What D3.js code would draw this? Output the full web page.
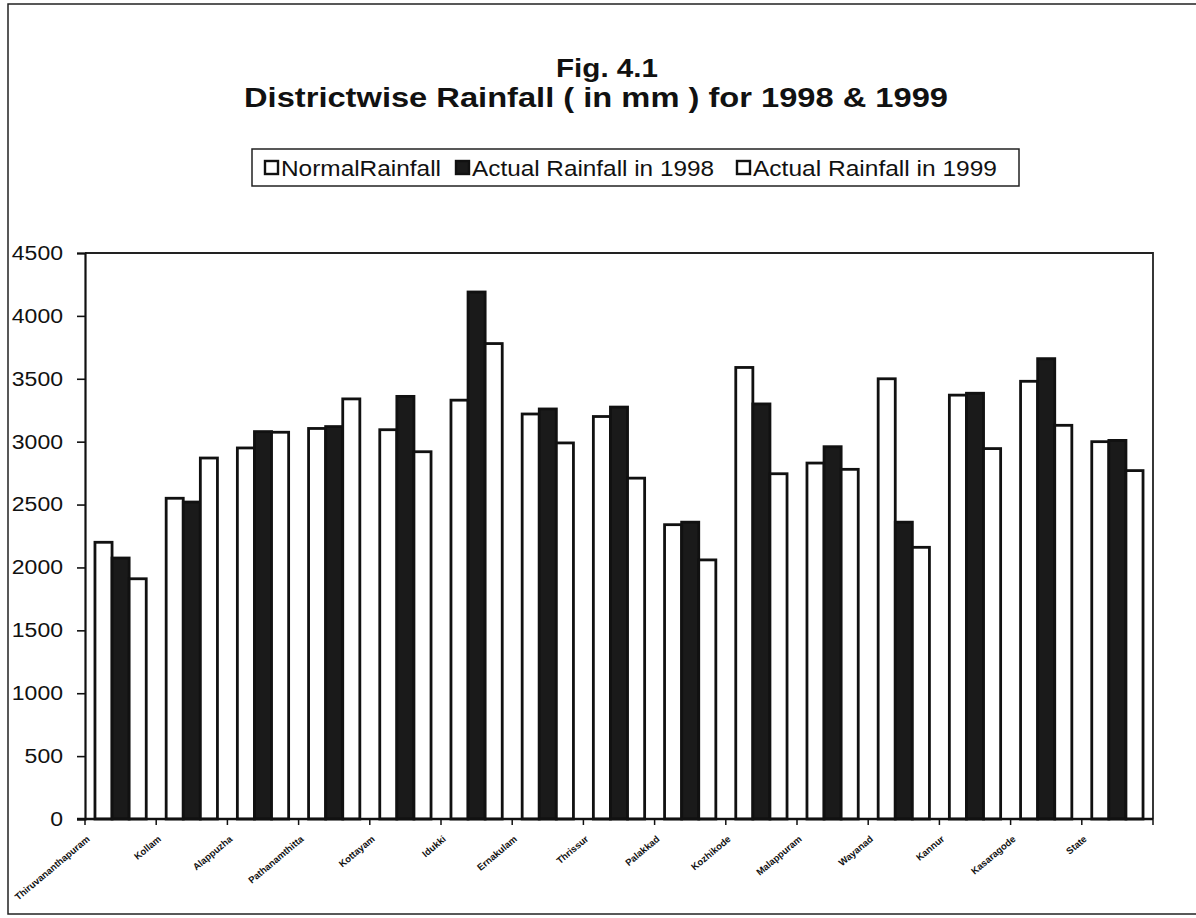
<!DOCTYPE html>
<html>
<head>
<meta charset="utf-8">
<script src="https://cdn.jsdelivr.net/npm/d3@7"></script>
<style>
  body { margin: 0; background: #ffffff; }
  svg { display: block; }
  text { font-family: "Liberation Sans", Arial, sans-serif; fill: #111; }
</style>
</head>
<body>
<div id="chart"></div>
<script>

// ----- Daten -------------------------------------------------------------------------------------- //

var districts = ['Thiruvananthapuram', 'Kollam', 'Alappuzha', 'Pathanamthitta', 'Kottayam', 'Idukki',
    'Ernakulam', 'Thrissur', 'Palakkad', 'Kozhikode', 'Malappuram', 'Wayanad', 'Kannur', 'Kasaragode', 'State'];

var normalRain = [2200, 2550, 2950, 3105, 3095, 3330, 3220, 3200, 2340, 3590, 2830, 3500, 3370, 3480, 3000];
var actual1998 = [2075, 2520, 3080, 3120, 3360, 4190, 3260, 3275, 2360, 3300, 2960, 2360, 3385, 3660, 3010];
var actual1999 = [1910, 2870, 3075, 3340, 2920, 3780, 2990, 2710, 2060, 2745, 2780, 2160, 2945, 3130, 2770];

var seriesNames = ['NormalRainfall', 'Actual Rainfall in 1998', 'Actual Rainfall in 1999'];
var seriesFill = ['#ffffff', '#1a1a1a', '#ffffff'];
var yTicks = [0, 500, 1000, 1500, 2000, 2500, 3000, 3500, 4000, 4500];


// ----- Aufbau ------------------------------------------------------------------------------------- //

var width = 1196, height = 918;
var plot = { left: 85, right: 1153, top: 253, bottom: 819 };

var svg = d3.select('#chart').append('svg')
    .attr('width', width)
    .attr('height', height);

// aeusserer Rahmen
svg.append('rect')
    .attr('x', 8).attr('y', 4)
    .attr('width', 1210).attr('height', 910)
    .attr('fill', 'none')
    .attr('stroke', '#222')
    .attr('stroke-width', 1.5);

// Titel (Scan ist etwas breit gezogen -> textLength)
svg.append('text')
    .attr('x', 556).attr('y', 77)
    .attr('textLength', 102)
    .attr('lengthAdjust', 'spacingAndGlyphs')
    .style('font-size', '25px').style('font-weight', 'bold')
    .text('Fig. 4.1');

svg.append('text')
    .attr('x', 244).attr('y', 107)
    .attr('textLength', 704)
    .attr('lengthAdjust', 'spacingAndGlyphs')
    .style('font-size', '27px').style('font-weight', 'bold')
    .text('Districtwise Rainfall ( in mm ) for 1998 & 1999');


// ----- Legende ------------------------------------------------------------------------------------ //

var legend = svg.append('g').attr('id', 'legend');

legend.append('rect')
    .attr('x', 252).attr('y', 149)
    .attr('width', 767).attr('height', 37)
    .attr('fill', '#fff')
    .attr('stroke', '#222')
    .attr('stroke-width', 1.5);

var legendX = [265, 456, 737];
var legendLen = [160, 242, 244];

for (var s = 0; s < seriesNames.length; s++) {
    legend.append('rect')
        .attr('x', legendX[s]).attr('y', 161)
        .attr('width', 13).attr('height', 13)
        .attr('fill', seriesFill[s])
        .attr('stroke', '#111')
        .attr('stroke-width', 2.4);

    legend.append('text')
        .attr('x', legendX[s] + 16).attr('y', 176)
        .attr('textLength', legendLen[s])
        .attr('lengthAdjust', 'spacingAndGlyphs')
        .style('font-size', '22px')
        .text(seriesNames[s]);
}


// ----- Skalen ------------------------------------------------------------------------------------- //

var x0 = d3.scaleBand()
    .domain(districts)
    .range([plot.left, plot.right])
    .paddingInner(0.28)
    .paddingOuter(0.14);

var x1 = d3.scaleBand()
    .domain([0, 1, 2])
    .range([0, x0.bandwidth()]);

var y = d3.scaleLinear()
    .domain([0, 4500])
    .range([plot.bottom, plot.top]);

// Plotrahmen oben / rechts
svg.append('path')
    .attr('d', 'M' + plot.left + ',' + plot.top + 'H' + plot.right + 'V' + plot.bottom)
    .attr('fill', 'none')
    .attr('stroke', '#222')
    .attr('stroke-width', 1.8);


// ----- Balken ------------------------------------------------------------------------------------- //

var allSeries = [normalRain, actual1998, actual1999];

var groups = svg.append('g').attr('id', 'bars')
    .selectAll('g')
    .data(districts)
    .enter().append('g')
    .attr('transform', function (d) { return 'translate(' + x0(d) + ',0)'; });

groups.selectAll('rect')
    .data(function (d, i) {
        return [0, 1, 2].map(function (s) { return { s: s, v: allSeries[s][i] }; });
    })
    .enter().append('rect')
    .attr('x', function (d) { return x1(d.s); })
    .attr('y', function (d) { return y(d.v); })
    .attr('width', x1.bandwidth())
    .attr('height', function (d) { return y(0) - y(d.v); })
    .attr('fill', function (d) { return seriesFill[d.s]; })
    .attr('stroke', '#111')
    .attr('stroke-width', 2.8);


// ----- Achsen ------------------------------------------------------------------------------------- //

var yAxis = svg.append('g')
    .attr('transform', 'translate(' + plot.left + ',0)')
    .call(d3.axisLeft(y).tickValues(yTicks).tickSize(8).tickPadding(14).tickFormat(d3.format('d')));

yAxis.select('.domain').attr('stroke', '#111').attr('stroke-width', 2.2);
yAxis.selectAll('.tick line').attr('stroke', '#111').attr('stroke-width', 1.6);
yAxis.selectAll('.tick text')
    .style('font-size', '20px')
    .style('font-family', '"Liberation Sans", Arial, sans-serif')
    .attr('fill', '#111')
    .attr('textLength', function (d) { return String(d).length * 12.8; })
    .attr('lengthAdjust', 'spacingAndGlyphs');

// x-Achse mit Strichen zwischen den Kategorien
var xBase = svg.append('g').attr('id', 'xaxis');

xBase.append('line')
    .attr('x1', plot.left - 8).attr('x2', plot.right)
    .attr('y1', plot.bottom).attr('y2', plot.bottom)
    .attr('stroke', '#111').attr('stroke-width', 2.6);

var step = x0.step();
for (var k = 0; k <= districts.length; k++) {
    var tx = plot.left + k * step;
    xBase.append('line')
        .attr('x1', tx).attr('x2', tx)
        .attr('y1', plot.bottom).attr('y2', plot.bottom + 6)
        .attr('stroke', '#111').attr('stroke-width', 1.5);
}

xBase.selectAll('text.xlab')
    .data(districts)
    .enter().append('text')
    .attr('class', 'xlab')
    .attr('text-anchor', 'end')
    .style('font-size', '9.5px')
    .style('font-weight', 'bold')
    .attr('transform', function (d) {
        var cx = x0(d) + x0.bandwidth() / 2 - 30;
        return 'translate(' + cx + ',' + (plot.bottom + 21) + ') rotate(-40)';
    })
    .text(function (d) { return d; });

</script>
</body>
</html>
